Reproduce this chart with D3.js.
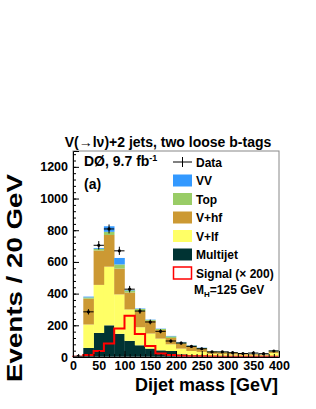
<!DOCTYPE html>
<html>
<head>
<meta charset="utf-8">
<script src="https://cdn.jsdelivr.net/npm/d3@7"></script>
<style>
  body { margin: 0; background: #fff; }
  text { font-family: "Liberation Sans", Arial, sans-serif; font-weight: bold; }
</style>
</head>
<body>
<svg id="svg1" width="316" height="409"></svg>
<script>
// bin edges in GeV, 20 GeV bins
const binEdges = [0, 20, 40, 60, 80, 100, 120, 140, 160, 180, 200, 220, 240, 260, 280, 300, 320, 340, 360, 380, 400];

// backgrounds, events per bin (stacked bottom to top)
const multijet = [1, 57, 152, 200, 146, 102, 74, 53, 42, 38, 17, 10, 8, 5, 5, 4, 3, 3, 3, 5];
const vlf      = [1, 148, 303, 370, 249, 198, 114, 95, 74, 42, 36, 28, 24, 15, 13, 12, 11, 9, 8, 20];
const vhf      = [1, 163, 217, 200, 163, 107, 102, 80, 54, 40, 31, 26, 18, 12, 11, 10, 7, 6, 5, 10];
const topq     = [0, 8, 11, 20, 26, 13, 13, 6, 7, 10, 8, 8, 7, 5, 4, 3, 3, 2, 2, 6];
const vv       = [0, 5, 5, 35, 41, 3, 3, 2, 2, 3, 3, 2, 2, 1, 1, 1, 1, 1, 1, 1];

const dataCounts = [4, 285, 705, 808, 670, 428, 290, 221, 162, 101, 88, 67, 52, 32, 32, 27, 22, 25, 21, 38];
const signalX200 = [2, 12, 38, 85, 180, 260, 145, 70, 22, 12, 8, 5, 4, 3, 2, 2, 1, 1, 1, 2];

const yTicks = [0, 200, 400, 600, 800, 1000, 1200];
const xTicks = [0, 50, 100, 150, 200, 250, 300, 350, 400];

const svg = d3.select('#svg1');

const x = d3.scaleLinear().domain([0, 400]).range([73, 279]);
const y = d3.scaleLinear().domain([0, 1300]).range([357, 151]);

const layers = [
  {name: 'Multijet', vals: multijet, color: '#003333'},
  {name: 'V+lf', vals: vlf, color: '#ffff66'},
  {name: 'V+hf', vals: vhf, color: '#cc9933'},
  {name: 'Top', vals: topq, color: '#99cc66'},
  {name: 'VV', vals: vv, color: '#3399ff'}
];

// stack
const rows = multijet.map((_, i) => {
  const r = {i: i};
  layers.forEach(l => r[l.name] = l.vals[i]);
  return r;
});
const stacked = d3.stack().keys(layers.map(l => l.name))(rows);

const g = svg.append('g');

stacked.forEach((s, k) => {
  g.append('g').selectAll('rect').data(s)
    .enter().append('rect')
      .attr('x', d => x(binEdges[d.data.i]))
      .attr('width', d => x(binEdges[d.data.i + 1]) - x(binEdges[d.data.i]) + 0.3)
      .attr('y', d => y(d[1]))
      .attr('height', d => Math.max(0, y(d[0]) - y(d[1])))
      .attr('fill', layers[k].color);
});

// signal outline
const sigPts = [[0, 0]];
signalX200.forEach((v, i) => {
  sigPts.push([binEdges[i], v]);
  sigPts.push([binEdges[i + 1], v]);
});
sigPts.push([400, 0]);
g.append('path')
  .attr('d', d3.line().x(d => x(d[0])).y(d => y(d[1]))(sigPts))
  .attr('fill', 'none')
  .attr('stroke', '#ff0000')
  .attr('stroke-width', 2);

// data
const dg = g.append('g');
dataCounts.forEach((n, i) => {
  const lo = binEdges[i], hi = binEdges[i + 1], xc = (lo + hi) / 2;
  const e = Math.sqrt(n);
  dg.append('line').attr('x1', x(lo)).attr('x2', x(hi)).attr('y1', y(n)).attr('y2', y(n))
    .attr('stroke', '#000').attr('stroke-width', 1);
  dg.append('line').attr('x1', x(xc)).attr('x2', x(xc)).attr('y1', y(n + e)).attr('y2', y(Math.max(0, n - e)))
    .attr('stroke', '#000').attr('stroke-width', 1);
  dg.append('circle').attr('cx', x(xc)).attr('cy', y(n)).attr('r', 1.6).attr('fill', '#000');
});

// frame
svg.append('rect')
  .attr('x', 73).attr('y', 151).attr('width', 206).attr('height', 206)
  .attr('fill', 'none').attr('stroke', '#888').attr('stroke-width', 1);

// axes
const yMinor = d3.range(0, 1300, 40);
const xMinor = d3.range(0, 401, 10);

svg.append('g').attr('transform', 'translate(73,0)')
  .call(d3.axisLeft(y).tickValues(yMinor).tickSize(-3).tickFormat(''))
  .call(a => a.select('.domain').remove());
svg.append('g').attr('transform', 'translate(73,0)')
  .call(d3.axisLeft(y).tickValues(yTicks).tickSize(-6).tickPadding(5).tickFormat(d3.format('d')))
  .call(a => a.select('.domain').attr('stroke', '#000'))
  .call(a => a.selectAll('text').attr('font-size', 12.5).attr('fill', '#000')
    .style('font-family', '"Liberation Sans", Arial, sans-serif').style('font-weight', 'bold'));

svg.append('g').attr('transform', 'translate(0,357)')
  .call(d3.axisBottom(x).tickValues(xMinor).tickSize(-3).tickFormat(''))
  .call(a => a.select('.domain').remove());
svg.append('g').attr('transform', 'translate(0,357)')
  .call(d3.axisBottom(x).tickValues(xTicks).tickSize(-6).tickPadding(4).tickFormat(d3.format('d')))
  .call(a => a.select('.domain').attr('stroke', '#000'))
  .call(a => a.selectAll('text').attr('font-size', 12.5).attr('fill', '#000')
    .style('font-family', '"Liberation Sans", Arial, sans-serif').style('font-weight', 'bold'));

// titles
svg.append('text').attr('x', 168).attr('y', 147).attr('text-anchor', 'middle')
  .attr('font-size', 14).text('V(\u2192l\u03bd)+2 jets, two loose b-tags');

svg.append('text').attr('x', 278).attr('y', 391).attr('text-anchor', 'end')
  .attr('font-size', 18).text('Dijet mass [GeV]');

svg.append('text').attr('transform', 'translate(22,174) rotate(-90)').attr('text-anchor', 'end')
  .attr('font-size', 22).attr('textLength', 208).attr('lengthAdjust', 'spacingAndGlyphs')
  .text('Events / 20 GeV');

const lab = svg.append('text').attr('x', 84).attr('y', 166).attr('font-size', 14);
lab.append('tspan').text('D\u00d8, 9.7 fb');
lab.append('tspan').attr('font-size', 9).attr('dy', -5).text('-1');

svg.append('text').attr('x', 84).attr('y', 189).attr('font-size', 14).text('(a)');

// legend
const leg = svg.append('g');
const legX = 173, legW = 19, legTxt = 196;
const rowY = [162, 180.5, 199, 217.5, 236, 254.5, 273];

leg.append('line').attr('x1', legX).attr('x2', legX + legW).attr('y1', rowY[0]).attr('y2', rowY[0]).attr('stroke', '#000');
leg.append('line').attr('x1', legX + legW / 2).attr('x2', legX + legW / 2).attr('y1', rowY[0] - 5).attr('y2', rowY[0] + 5).attr('stroke', '#000');
leg.append('text').attr('x', legTxt).attr('y', rowY[0] + 4.5).attr('font-size', 12).text('Data');

const legItems = layers.slice().reverse();
legItems.forEach((l, k) => {
  const cy = rowY[k + 1];
  leg.append('rect').attr('x', legX).attr('y', cy - 6).attr('width', legW).attr('height', 12).attr('fill', l.color);
  leg.append('text').attr('x', legTxt).attr('y', cy + 4.5).attr('font-size', 12).text(l.name);
});

leg.append('rect').attr('x', legX + 0.5).attr('y', rowY[6] - 6).attr('width', legW - 1).attr('height', 12)
  .attr('fill', '#fff').attr('stroke', '#ff0000').attr('stroke-width', 1.5);
leg.append('text').attr('x', legTxt).attr('y', rowY[6] + 4.5).attr('font-size', 12).text('Signal (\u00d7 200)');

const mh = leg.append('text').attr('x', 194).attr('y', 294).attr('font-size', 12);
mh.append('tspan').text('M');
mh.append('tspan').attr('font-size', 8).attr('dy', 3).text('H');
mh.append('tspan').attr('dy', -3).text('=125 GeV');
</script>
</body>
</html>
